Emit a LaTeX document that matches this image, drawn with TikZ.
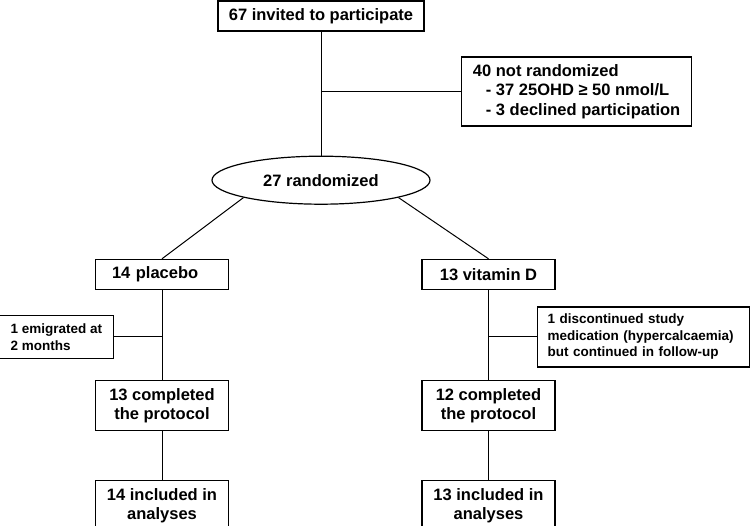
\documentclass[tikz,border=0pt]{standalone}
\usepackage{fontspec}
\setmainfont{Liberation Sans}
\usetikzlibrary{positioning, shapes.geometric}

\begin{document}
\begin{tikzpicture}[x=1pt, y=-1pt, line width=1pt,
    box/.style={draw, line width=1.2pt, minimum width=133pt, minimum height=30pt, align=center, font=\fontsize{16.5}{19.5}\selectfont\bfseries},
    side/.style={draw, line width=1.2pt, align=left, inner xsep=10pt, font=\fontsize{13.5}{16.5}\selectfont\bfseries}]
    \useasboundingbox (0,0) rectangle (750,526);

    \node[box, minimum width=206pt] (invite) at (321,16) {67 invited to participate};
    \node[box, ellipse, minimum width=218pt, minimum height=48pt, below=124pt of invite] (rand) {27 randomized};
    \coordinate[below=60pt of invite] (s1);
    \node[side, right=140pt of s1, minimum width=230pt, minimum height=69pt, font=\fontsize{16.5}{19.5}\selectfont\bfseries] (excl)
        {40 not randomized\\\hspace*{13pt}- 37 25OHD ≥ 50 nmol/L\\\hspace*{13pt}- 3 declined participation};

    % placebo arm
    \node[box, text width=100pt, align=left, below=54pt of rand, xshift=-159pt] (placebo) {14 placebo};
    \coordinate[below=47pt of placebo.south] (s2);
    \node[side, left=48pt of s2, minimum width=114pt, minimum height=43pt] (emig) {1 emigrated at\\2 months};
    \node[box, minimum height=50pt, below=90pt of placebo] (comp1) {13 completed\\the protocol};
    \node[box, minimum height=50pt, below=49pt of comp1] (inc1) {14 included in\\analyses};

    % vitamin D arm
    \node[box, below=54pt of rand, xshift=167.5pt] (vitd) {13 vitamin D};
    \coordinate[below=47pt of vitd.south] (s3);
    \node[side, right=48.5pt of s3, text width=192pt, minimum height=60pt] (disc)
        {1 discontinued study\\medication (hypercalcaemia)\\but continued in follow-up};
    \node[box, minimum height=50pt, below=90pt of vitd] (comp2) {12 completed\\the protocol};
    \node[box, minimum height=50pt, below=49pt of comp2] (inc2) {13 included in\\analyses};

    \draw (invite) -- (rand);
    \draw (s1) -- (excl);
    \draw (rand.south west) -- (placebo.north);
    \draw (rand.south east) -- (vitd.north);
    \draw (placebo) -- (comp1) -- (inc1);
    \draw (s2) -- (emig);
    \draw (vitd) -- (comp2) -- (inc2);
    \draw (s3) -- (disc);
\end{tikzpicture}
\end{document}
